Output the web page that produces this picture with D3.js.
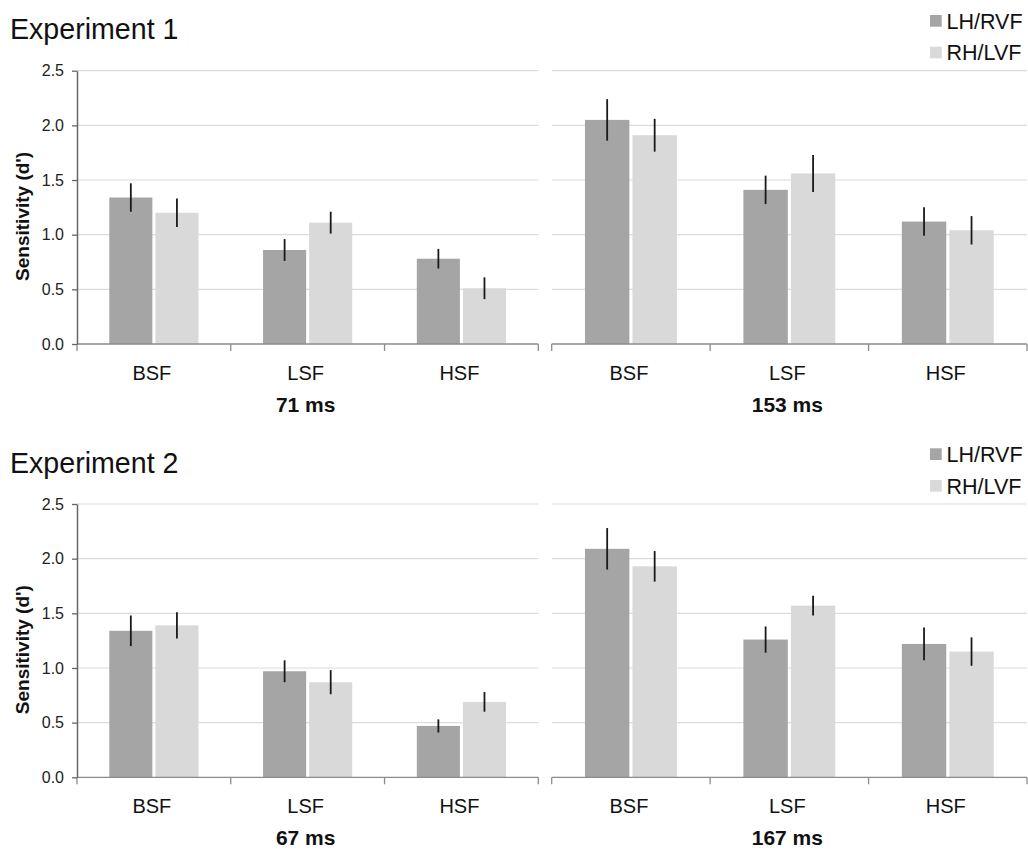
<!DOCTYPE html>
<html>
<head>
<meta charset="utf-8">
<script src="https://cdnjs.cloudflare.com/ajax/libs/d3/7.8.5/d3.min.js"></script>
<style>
  html, body { margin: 0; padding: 0; background: #fff; }
  svg { display: block; font-family: "Liberation Sans", Arial, Helvetica, sans-serif; }
</style>
</head>
<body>
<svg id="chart" width="1028" height="850"></svg>
<script>
// ---------------- DATA ----------------
const categories = ["BSF", "LSF", "HSF"];
const seriesNames = ["LH/RVF", "RH/LVF"];
const yTicks = [0, 0.5, 1.0, 1.5, 2.0, 2.5];
const experimentTitles = ["Experiment 1", "Experiment 2"];
const durationLabels = [["71 ms", "153 ms"], ["67 ms", "167 ms"]];

// Experiment 1, 71 ms
const exp1_71_LH = [1.34, 0.86, 0.78];
const exp1_71_RH = [1.20, 1.11, 0.51];
const exp1_71_LH_err = [0.13, 0.10, 0.09];
const exp1_71_RH_err = [0.13, 0.10, 0.10];
// Experiment 1, 153 ms
const exp1_153_LH = [2.05, 1.41, 1.12];
const exp1_153_RH = [1.91, 1.56, 1.04];
const exp1_153_LH_err = [0.19, 0.13, 0.13];
const exp1_153_RH_err = [0.15, 0.17, 0.13];
// Experiment 2, 67 ms
const exp2_67_LH = [1.34, 0.97, 0.47];
const exp2_67_RH = [1.39, 0.87, 0.69];
const exp2_67_LH_err = [0.14, 0.10, 0.06];
const exp2_67_RH_err = [0.12, 0.11, 0.09];
// Experiment 2, 167 ms
const exp2_167_LH = [2.09, 1.26, 1.22];
const exp2_167_RH = [1.93, 1.57, 1.15];
const exp2_167_LH_err = [0.19, 0.12, 0.15];
const exp2_167_RH_err = [0.14, 0.09, 0.13];

const panelData = [
  [
    { lh: exp1_71_LH, rh: exp1_71_RH, lhErr: exp1_71_LH_err, rhErr: exp1_71_RH_err },
    { lh: exp1_153_LH, rh: exp1_153_RH, lhErr: exp1_153_LH_err, rhErr: exp1_153_RH_err }
  ],
  [
    { lh: exp2_67_LH, rh: exp2_67_RH, lhErr: exp2_67_LH_err, rhErr: exp2_67_RH_err },
    { lh: exp2_167_LH, rh: exp2_167_RH, lhErr: exp2_167_LH_err, rhErr: exp2_167_RH_err }
  ]
];

// ---------------- STYLE / LAYOUT ----------------
const colors = { "LH/RVF": "#a5a5a5", "RH/LVF": "#d9d9d9" };
const blockOffsets = [0, 433.3];
const plotTop = 70.7, plotBottom = 344;
const panelRanges = [[77, 538.3], [551.7, 1027]];

const svg = d3.select("#chart");

experimentTitles.forEach((title, bi) => {
  const off = blockOffsets[bi];
  const g = svg.append("g").attr("transform", `translate(0,${off})`);

  const y = d3.scaleLinear().domain([0, 2.5]).range([plotBottom, plotTop]);

  // title
  g.append("text").attr("x", 10).attr("y", 39.3)
    .attr("font-size", 28.6).attr("fill", "#111").text(title);

  // legend
  seriesNames.forEach((s, i) => {
    const ly = 15 + i * 31.7;
    g.append("rect").attr("x", 930).attr("y", ly).attr("width", 11.7).attr("height", 11.7)
      .attr("fill", colors[s]);
    g.append("text").attr("x", 946.5).attr("y", ly + 13.7)
      .attr("font-size", 21.5).attr("fill", "#111").text(s);
  });

  // y-axis title
  g.append("text")
    .attr("transform", `translate(28.5,${(plotTop + plotBottom) / 2 + 9}) rotate(-90)`)
    .attr("text-anchor", "middle").attr("font-weight", "bold")
    .attr("font-size", 19).attr("fill", "#111").text("Sensitivity (d')");

  panelRanges.forEach((rng, pi) => {
    const d = panelData[bi][pi];
    const x0 = d3.scaleBand().domain(categories).range(rng).padding(0);
    const bw = x0.bandwidth();
    const x1 = d3.scaleBand().domain(seriesNames)
      .range([bw * 0.21, bw * 0.79]).paddingInner(0.065);

    // gridlines
    g.append("g").selectAll("line").data(yTicks.filter(t => t > 0)).join("line")
      .attr("x1", rng[0]).attr("x2", rng[1])
      .attr("y1", t => y(t)).attr("y2", t => y(t))
      .attr("stroke", "#dcdcdc").attr("stroke-width", 1.2);

    // bars
    const rows = [];
    categories.forEach((c, ci) => {
      rows.push({ c, s: "LH/RVF", v: d.lh[ci], e: d.lhErr[ci] });
      rows.push({ c, s: "RH/LVF", v: d.rh[ci], e: d.rhErr[ci] });
    });
    const bars = g.append("g");
    bars.selectAll("rect").data(rows).join("rect")
      .attr("x", r => x0(r.c) + x1(r.s))
      .attr("width", x1.bandwidth())
      .attr("y", r => y(r.v))
      .attr("height", r => y(0) - y(r.v))
      .attr("fill", r => colors[r.s]);

    // error bars
    bars.selectAll("line.err").data(rows).join("line").attr("class", "err")
      .attr("x1", r => x0(r.c) + x1(r.s) + x1.bandwidth() / 2)
      .attr("x2", r => x0(r.c) + x1(r.s) + x1.bandwidth() / 2)
      .attr("y1", r => y(r.v + r.e)).attr("y2", r => y(r.v - r.e))
      .attr("stroke", "#1a1a1a").attr("stroke-width", 1.8);

    // x axis
    const xAxisG = g.append("g");
    xAxisG.append("line").attr("x1", rng[0]).attr("x2", rng[1])
      .attr("y1", y(0)).attr("y2", y(0)).attr("stroke", "#8c8c8c").attr("stroke-width", 1.3);
    const boundaries = categories.map(c => x0(c)).concat([rng[1]]);
    xAxisG.selectAll("line.tk").data(boundaries).join("line").attr("class", "tk")
      .attr("x1", b => b).attr("x2", b => b)
      .attr("y1", y(0)).attr("y2", y(0) + 7)
      .attr("stroke", "#8c8c8c").attr("stroke-width", 1.3);
    xAxisG.selectAll("text.cat").data(categories).join("text").attr("class", "cat")
      .attr("x", c => x0(c) + bw / 2 - 2).attr("y", y(0) + 36)
      .attr("text-anchor", "middle").attr("font-size", 20).attr("fill", "#111")
      .text(c => c);
    xAxisG.append("text")
      .attr("x", (rng[0] + rng[1]) / 2 - 2).attr("y", y(0) + 67.5)
      .attr("text-anchor", "middle").attr("font-weight", "bold")
      .attr("font-size", 21).attr("fill", "#111").text(durationLabels[bi][pi]);
  });

  // y axis (left panel)
  const yAxis = d3.axisLeft(y).tickValues(yTicks).tickFormat(d3.format(".1f"))
    .tickSize(5).tickSizeOuter(0).tickPadding(8);
  const ya = g.append("g").attr("transform", `translate(${panelRanges[0][0]},0)`).call(yAxis);
  ya.select(".domain").attr("stroke", "#666").attr("stroke-width", 1.5);
  ya.selectAll(".tick line").attr("stroke", "#666").attr("stroke-width", 1.3);
  ya.selectAll(".tick text").attr("font-size", 16).attr("fill", "#222")
    .attr("font-family", "Liberation Sans, Arial, sans-serif");
});
</script>
</body>
</html>
